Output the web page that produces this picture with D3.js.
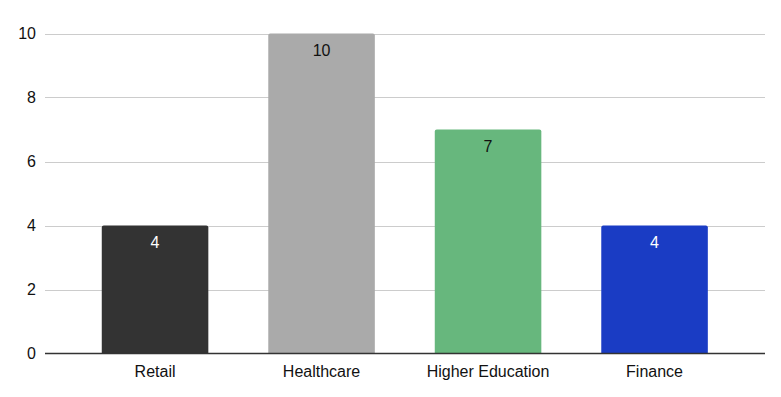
<!DOCTYPE html>
<html>
<head>
<meta charset="utf-8">
<script src="https://cdn.jsdelivr.net/npm/d3@7"></script>
<style>
  body { margin: 0; background: #fff; }
  svg text { font-family: Arial, "Liberation Sans", sans-serif; }
</style>
</head>
<body>
<svg class="chart" width="781" height="397"></svg>
<script>
let categories = ['Retail', 'Healthcare', 'Higher Education', 'Finance']
let values = [4, 10, 7, 4]
let barColors = ['#333333', '#aaaaaa', '#67b77d', '#1a3cc4']
let labelColors = ['#ffffff', '#111111', '#111111', '#ffffff']
let yTicks = [0, 2, 4, 6, 8, 10]

let svg = d3.select('.chart')

// plot area
let plotLeft = 45, plotRight = 765, plotTop = 33.5, plotBottom = 353.5

let x = d3.scaleBand()
  .domain(categories)
  .range([71.8, 737.8])
  .paddingInner(0.36)
  .paddingOuter(0.18)

let y = d3.scaleLinear()
  .domain([0, 10])
  .range([plotBottom, plotTop])

// gridlines
svg.selectAll('.grid')
  .data(yTicks.filter(d => d !== 0))
  .enter()
  .append('line')
  .attr('x1', plotLeft)
  .attr('x2', plotRight)
  .attr('y1', d => Math.round(y(d)) + 0.5)
  .attr('y2', d => Math.round(y(d)) + 0.5)
  .attr('stroke', '#cccccc')
  .attr('stroke-width', 1)

// y tick labels
svg.selectAll('.ytick')
  .data(yTicks)
  .enter()
  .append('text')
  .attr('x', 36)
  .attr('y', d => y(d))
  .attr('dy', '0.35em')
  .attr('text-anchor', 'end')
  .attr('font-size', 16)
  .attr('fill', '#111')
  .text(d => d)

// bars with slightly rounded top corners
let r = 2
svg.selectAll('.bar')
  .data(values)
  .enter()
  .append('path')
  .attr('fill', (d, i) => barColors[i])
  .attr('d', (d, i) => {
    let x0 = x(categories[i]), w = x.bandwidth()
    let y0 = y(d), yb = y(0)
    return `M${x0},${yb}V${y0 + r}Q${x0},${y0} ${x0 + r},${y0}H${x0 + w - r}Q${x0 + w},${y0} ${x0 + w},${y0 + r}V${yb}Z`
  })

// value labels
svg.selectAll('.value')
  .data(values)
  .enter()
  .append('text')
  .attr('x', (d, i) => x(categories[i]) + x.bandwidth() / 2)
  .attr('y', d => y(d) + 22.5)
  .attr('text-anchor', 'middle')
  .attr('font-size', 16)
  .attr('fill', (d, i) => labelColors[i])
  .text(d => d)

// baseline
svg.append('line')
  .attr('x1', plotLeft)
  .attr('x2', plotRight)
  .attr('y1', y(0))
  .attr('y2', y(0))
  .attr('stroke', '#333333')
  .attr('stroke-width', 1.3)

// category labels
svg.selectAll('.xtick')
  .data(categories)
  .enter()
  .append('text')
  .attr('x', d => x(d) + x.bandwidth() / 2)
  .attr('y', 377)
  .attr('text-anchor', 'middle')
  .attr('font-size', 16)
  .attr('fill', '#111')
  .text(d => d)
</script>
</body>
</html>
